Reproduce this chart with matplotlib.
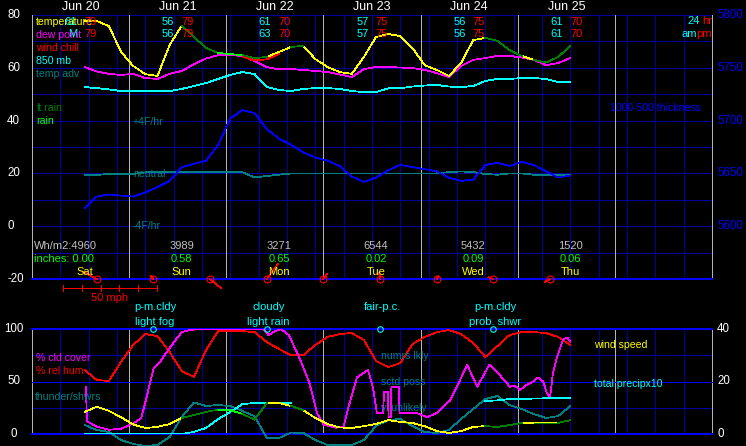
import numpy as np
import matplotlib
matplotlib.use('Agg')
import matplotlib.pyplot as plt
import matplotlib.transforms as mtransforms
from matplotlib.lines import Line2D

plt.rcParams['font.family'] = ['Liberation Sans', 'DejaVu Sans']

# ---------------- data ----------------
hours = [13, 16, 19, 22, 25, 28, 31, 34, 37, 40, 43, 46, 49, 52, 55,
         58, 61, 64, 67, 70, 73, 76, 79, 82, 85, 88, 91, 94, 97, 100,
         103, 106, 109, 112, 115, 118, 121, 124, 127, 130, 133]

temperature = [77.7, 77.7, 75.8, 66.0, 60.7, 57.6, 56.9, 68.6, 76.0, 71.7, 67.5, 65.6, 65.2, 64.8, 63.7,
               64.1, 66.0, 67.9, 68.3, 63.3, 60.3, 58.4, 57.7, 64.1, 71.7, 72.8, 72.0, 67.5, 61.0, 59.2,
               56.9, 61.8, 70.5, 71.3, 70.2, 66.7, 64.5, 63.0, 62.0, 64.1, 68.3]
dew_point = [60.3, 58.6, 57.7, 57.3, 57.7, 56.1, 55.8, 57.7, 58.8, 61.4, 63.5, 64.8, 64.8, 64.5, 62.5,
             60.3, 59.4, 59.5, 59.2, 58.8, 58.4, 57.5, 56.5, 59.5, 60.3, 60.3, 60.1, 59.9, 59.2, 58.0,
             56.5, 60.7, 63.0, 63.7, 64.5, 64.5, 63.9, 63.0, 61.0, 61.8, 63.7]
wind_chill_hours = [52, 55, 58, 61]
wind_chill = [64.2, 62.8, 63.2, 65.2]
t850 = [52.7, 52.3, 51.8, 51.2, 51.2, 51.2, 51.2, 51.2, 52.0, 53.1, 54.2, 55.8, 57.3, 58.4, 57.6,
        52.7, 51.6, 51.2, 52.0, 52.3, 52.3, 52.0, 51.2, 50.8, 50.8, 52.2, 52.3, 52.9, 53.3, 53.5,
        52.9, 52.7, 53.1, 55.0, 55.8, 55.8, 56.1, 56.1, 55.8, 54.6, 54.6]
temp_adv = [-0.12, -0.12, -0.04, -0.04, -0.04, 0.08, 0.08, 0.08, 0.08, 0.08, 0.08, 0.08, 0.08, 0.08, -0.3,
            -0.2, -0.1, 0.0, 0.0, 0.0, 0.0, 0.0, 0.0, 0.0, 0.0, 0.0, 0.0, 0.0, 0.0, 0.0,
            0.1, 0.15, 0.1, -0.05, -0.1, 0.0, 0.0, -0.1, -0.1, -0.1, -0.1]
thickness = [5617, 5628, 5630, 5629, 5628, 5632, 5637, 5643, 5656, 5659, 5662, 5677, 5702, 5710, 5707,
             5692, 5683, 5677, 5670, 5665, 5662, 5657, 5647, 5642, 5646, 5653, 5658, 5656, 5654, 5652,
             5646, 5643, 5644, 5658, 5660, 5657, 5661, 5658, 5652, 5646, 5648]
# 0 none, 1 light rain, 2 rain
rain = [0, 0, 0, 0, 0, 0, 0, 0, 1, 1, 1, 2, 2, 1, 1,
        0, 0, 1, 0, 0, 0, 0, 0, 0, 0, 0, 0, 0, 0, 0,
        0, 0, 0, 1, 1, 1, 0, 1, 1, 0, 1]

rel_hum = [61, 51.4, 50.5, 68.6, 84.8, 95.2, 93.3, 78, 60, 54.3, 80, 98, 98, 98, 97,
           87.6, 81, 75, 75, 84.8, 92.4, 95.2, 96.2, 89.5, 69.5, 63.8, 67.6, 85.7, 92.4, 97,
           99, 95.2, 86.7, 73.3, 83.8, 94.3, 97, 97, 96.2, 92.4, 84.8]
thunder = [8.6, 3.8, 1.9, -5.7, -9.5, -11.4, -10.5, -2.9, 16.2, 30, 26.7, 27.6, 26.7, 21.9, 17,
           -3.8, -3.8, 1.4, 1, -5.7, -10.5, -10.5, -10.5, -5.7, 7.6, 13.3, 14.3, 7.6, 1.9, 1,
           3.8, 14.3, 23.8, 33.3, 36.2, 27.6, 23.8, 19, 15.2, 17.1, 26.7]
wind_speed = [8.4, 10.4, 8.8, 6.4, 3.6, 2.3, 2.7, 3.8, 6.1, 7.2, 8.4, 9.3, 9.1, 7.6, 5.5,
              11.8, 11.8, 10.7, 9.1, 6.1, 3.8, 2.5, 2.3, 3.0, 3.8, 5.3, 4.6, 4.2, 3.0, 1.1,
              0.4, 1.1, 2.7, 3.0, 2.7, 3.4, 4.2, 4.2, 4.2, 4.2, 5.3]
total_precip10 = [0, 0, 0, 0, 0, 0, 0, 0, 0, 0.8, 2.3, 5.7, 8.4, 11.4, 11.8,
                  11.8, 11.8, 11.8, np.nan, np.nan, np.nan, np.nan, np.nan, np.nan, np.nan, np.nan, np.nan, np.nan, np.nan, np.nan,
                  np.nan, np.nan, np.nan, 12.6, 12.8, 13.3, 13.4, 13.5, 13.6, 13.7, 13.7]

cc_hours = [13.3, 13.6, 16, 19, 22, 25, 27, 28.5, 30, 31.5, 34, 37, 39, 41, 57, 58.5, 59.5, 61.5,
            63.5, 66, 68.5, 70.4, 72, 75, 77, 78.5, 80.3, 83, 84.2, 85.2, 86.7, 87, 87.9, 88.1, 88.6,
            88.8, 90.6, 90.8, 95, 97.6, 100, 103.3, 105, 107.5, 110, 113, 115.6, 118.1, 119.3,
            120.6, 122.3, 123.8, 125, 126.3, 127.2, 128, 128.7, 129.7, 131.2, 132.2, 133]
cloud_cover = [45, 12, 7, 4, 5, 10, 15, 38, 62, 68, 82, 97, 99, 100, 100, 94, 97, 100,
               94, 73, 49, 20, 9, 6, 7, 30, 54, 61, 45, 20, 20, 40, 40, 16, 16,
               45, 45, 20, 20, 16, 20, 32, 45, 66, 45, 66, 56, 45, 46,
               42, 47, 50, 54, 50, 39, 35, 58, 73, 90, 92, 88]

barb_hours = [16, 30, 44, 58, 72, 86, 100, 114, 128]
barb_u = [-7.3, -1.3, 5.7, 6.0, 2.0, -0.5, 0.9, -2.7, -2.8]   # mph, east
barb_v = [3.9, 1.4, -4.8, 8.0, 2.7, 3.2, 1.4, 0.9, -1.6]      # mph, north

dates = ['Jun 20', 'Jun 21', 'Jun 22', 'Jun 23', 'Jun 24', 'Jun 25']
lo24 = ['61', '56', '61', '57', '56', '61']
hi24 = ['79', '79', '70', '75', '75', '70']
lo_am = ['M', '56', '63', '57', '56', '61']
hi_pm = ['79', '79', '70', '75', '75', '70']
solar = ['4960', '3989', '3271', '6544', '5432', '1520']
precip_in = ['0.00', '0.58', '0.65', '0.02', '0.09', '0.06']
day_names = ['Sat', 'Sun', 'Mon', 'Tue', 'Wed', 'Thu']

wx_hours = [30, 58, 86, 114]
wx_line1 = ['p-m.cldy', 'cloudy', 'fair-p.c.', 'p-m.cldy']
wx_line2 = ['light fog', 'light rain', '', 'prob. shwr']

left_ticks_top = [80, 60, 40, 20, 0, -20]
right_ticks_top = [5800, 5750, 5700, 5650, 5600]
left_ticks_bot = [100, 50, 0]
right_ticks_bot = [40, 20, 0]

# ---------------- styling ----------------
W, H = 746, 446
NAVY = '#0000a0'
BLUE = '#0000ff'
GRAY = '#b4b4b4'
TEAL = '#008080'
DKGREEN = '#008000'
GREEN = '#00ff00'
FS = 7.6

fig = plt.figure(figsize=(W / 100, H / 100), dpi=100, facecolor='black')
pix = mtransforms.Affine2D().scale(1 / W, -1 / H).translate(0, 1) + fig.transFigure


def rect(x0, y0, x1, y1):
    return [x0 / W, 1 - y1 / H, (x1 - x0) / W, (y1 - y0) / H]


ax = fig.add_axes(rect(32, 15, 712, 279))
axb = fig.add_axes(rect(32, 329, 712, 434))
for a in (ax, axb):
    a.set_facecolor('black')
    a.set_xlim(0, 168)
    for s in a.spines.values():
        s.set_visible(False)
    a.set_xticks([])
    a.set_yticks([])
ax.set_ylim(-20, 80)
axb.set_ylim(0, 100)
axb2 = axb.twinx()
axb2.set_ylim(0, 40)
axb2.set_axis_off()
axt = ax.twinx()
axt.set_ylim(5550, 5800)
axt.set_axis_off()

LW = 0.55
AA = False

# grids
for a, hlines, strong in ((ax, range(-20, 81, 10), [-20]), (axb, range(0, 101, 25), [0, 50, 100])):
    for k in range(1, 24):
        a.axvline(7 * k, color=NAVY, lw=LW, antialiased=AA, zorder=0)
    for v in hlines:
        if v in strong:
            a.axhline(v, color=BLUE, lw=1.3 if v != 50 else LW, antialiased=AA, zorder=0.5,
                      clip_on=False)
        else:
            a.axhline(v, color=NAVY, lw=LW, antialiased=AA, zorder=0)
    for d in range(0, 8):
        a.axvline(24 * d, color=GRAY, lw=LW, antialiased=AA, zorder=0.4, clip_on=False)

hrs = np.array(hours, dtype=float)


def line(a, x, y, color, z=2, clip=True):
    a.plot(x, y, color=color, lw=LW, antialiased=AA, zorder=z, clip_on=clip)


def rain_overlay(a, y, z):
    y = np.asarray(y, dtype=float)
    n = len(hrs)
    for i, r in enumerate(rain):
        if r == 0:
            continue
        j0, j1 = (i, i + 1) if i < n - 1 else (i - 1, i)
        line(a, hrs[j0:j1 + 1], y[j0:j1 + 1], DKGREEN if r == 1 else GREEN, z)


# top panel series
line(ax, hrs, [20 + 5 * v for v in temp_adv], TEAL, 1.5)
line(axt, hrs, thickness, '#0000ff', 1.6)
line(ax, hrs, t850, '#00ffff', 2)
line(ax, hrs, dew_point, '#ff00ff', 2.1)
line(ax, wind_chill_hours, wind_chill, '#ff0000', 2.2)
line(ax, hrs, temperature, '#ffff00', 2.3)
rain_overlay(ax, temperature, 2.4)

# bottom panel series
line(axb, hrs, thunder, TEAL, 2, clip=False)
line(axb, hrs, rel_hum, '#ff0000', 2.1)
line(axb, cc_hours, cloud_cover, '#ff00ff', 2.2)
line(axb2, hrs, total_precip10, '#00ffff', 2.3)
line(axb2, hrs, wind_speed, '#ffff00', 2.4)
rain_overlay(axb2, wind_speed, 2.5)

# wind vectors along bottom of top panel
MPH_PX = 94 / 50.0            # pixels per mph
px_per_hr = 680 / 168.0
px_per_unit = 264 / 100.0
for h, u, v in zip(barb_hours, barb_u, barb_v):
    ax.plot([h, h + u * MPH_PX / px_per_hr], [-20, -20 + v * MPH_PX / px_per_unit],
            color='#ff0000', lw=LW, antialiased=AA, clip_on=False, zorder=5)
ax.plot(barb_hours, [-20] * len(barb_hours), 'o', ms=5, mfc='none', mec='#ff0000', mew=0.8,
        clip_on=False, zorder=6)

# scale bar 50 mph
x0 = 63
fig.add_artist(Line2D([x0, x0 + 50 * MPH_PX], [288, 288], color='#ff0000', lw=LW,
                      antialiased=AA, transform=pix))
for k in range(6):
    xx = x0 + 10 * k * MPH_PX
    fig.add_artist(Line2D([xx, xx], [285, 291], color='#ff0000', lw=LW, antialiased=AA,
                          transform=pix))


def ftext(x, y, s, color, size=FS, ha='left', trans=pix, z=10):
    fig.text(x, y, s, color=color, fontsize=size, ha=ha, va='center', transform=trans, zorder=z)


ftext(x0 + 25 * MPH_PX, 298, '50 mph', '#ff0000', FS + 0.4, 'center')

tr_top = mtransforms.blended_transform_factory(ax.transData, pix)
tr_bot = mtransforms.blended_transform_factory(axb.transData, pix)

# axis tick labels (x in figure pixels, y in data)
for a, ticks, xp, col, ha in ((ax, left_ticks_top, 7, 'white', 'left'),
                              (axt, right_ticks_top, 717, '#0000ff', 'left'),
                              (axb, left_ticks_bot, 14, 'white', 'center'),
                              (axb2, right_ticks_bot, 717, 'white', 'left')):
    tr = mtransforms.blended_transform_factory(pix, a.transData)
    for v in ticks:
        fig.text(xp, v, str(v), color=col, fontsize=8.3, ha=ha, va='center', transform=tr)

# legend labels (top)
ftext(36, 22, 'temperature', '#ffff00')
ftext(36, 35, 'dew point', '#ff00ff')
ftext(36, 48, 'wind chill', '#ff0000')
ftext(36, 61, '850 mb', '#00ffff')
ftext(36, 74, 'temp adv', TEAL)
ftext(36, 108, 'lt.rain', DKGREEN)
ftext(36, 121, 'rain', GREEN)
ftext(133, 122, '+4F/hr', TEAL)
ftext(133, 174, 'neutral', TEAL)
ftext(133, 226, '-4F/hr', TEAL)
ftext(701, 108, '1000-500 thickness', '#0000ff', ha='right')

# dates and min/max rows
for d in range(6):
    noon = 12 + 24 * d
    ftext(noon, 7, dates[d], 'white', 9, 'center', tr_top)
    ftext(noon - 0.9, 22, lo24[d], '#00ffff', FS + 0.4, 'right', tr_top, 11)
    ftext(noon + 0.9, 22, hi24[d], '#ff0000', FS + 0.4, 'left', tr_top, 11)
    ftext(noon - 0.9, 34, lo_am[d], '#00ffff', FS + 0.4, 'right', tr_top, 11)
    ftext(noon + 0.9, 34, hi_pm[d], '#ff0000', FS + 0.4, 'left', tr_top, 11)
ftext(700, 21, '24', '#00ffff', FS + 0.4, 'right')
ftext(712, 21, 'hr', '#ff0000', FS + 0.4, 'right')
ftext(697, 34, 'am', '#00ffff', FS + 0.4, 'right')
ftext(712, 34, 'pm', '#ff0000', FS + 0.4, 'right')

# daily stats rows
ftext(34, 246, 'Wh/m2:' + solar[0], '#c0c0c0', FS + 0.4)
ftext(34, 259, 'inches: ' + precip_in[0], GREEN, FS + 0.4)
for d in range(6):
    h = 13 + 24 * d
    if d > 0:
        ftext(h, 246, solar[d], '#c0c0c0', FS + 0.4, 'center', tr_top)
        ftext(h, 259, precip_in[d], GREEN, FS + 0.4, 'center', tr_top)
    ftext(h, 272, day_names[d], '#ffff00', FS + 0.4, 'center', tr_top)

# bottom panel labels
ftext(36, 358, '% cld cover', '#ff00ff')
ftext(36, 371, '% rel hum', '#ff0000')
ftext(35, 397, 'thunder/shwrs', TEAL)
ftext(381, 356, 'numrs lkly', TEAL)
ftext(381, 382, 'sctd poss', TEAL)
ftext(381, 408, 'v. unlikely', TEAL)
ftext(594, 345, 'wind speed', '#ffff00')
ftext(594, 384, 'total precipx10', '#00ffff')

for h, l1, l2 in zip(wx_hours, wx_line1, wx_line2):
    ftext(h + 0.6, 307, l1, '#00ffff', FS + 0.4, 'center', tr_bot)
    if l2:
        ftext(h + 0.4, 322, l2, '#00ffff', FS + 0.4, 'center', tr_bot)
axb.plot(wx_hours, [100] * len(wx_hours), 'o', ms=4, mfc='none', mec='#00ffff', mew=0.8,
         clip_on=False, zorder=6)

fig.savefig('out.png', dpi=100, facecolor='black')
